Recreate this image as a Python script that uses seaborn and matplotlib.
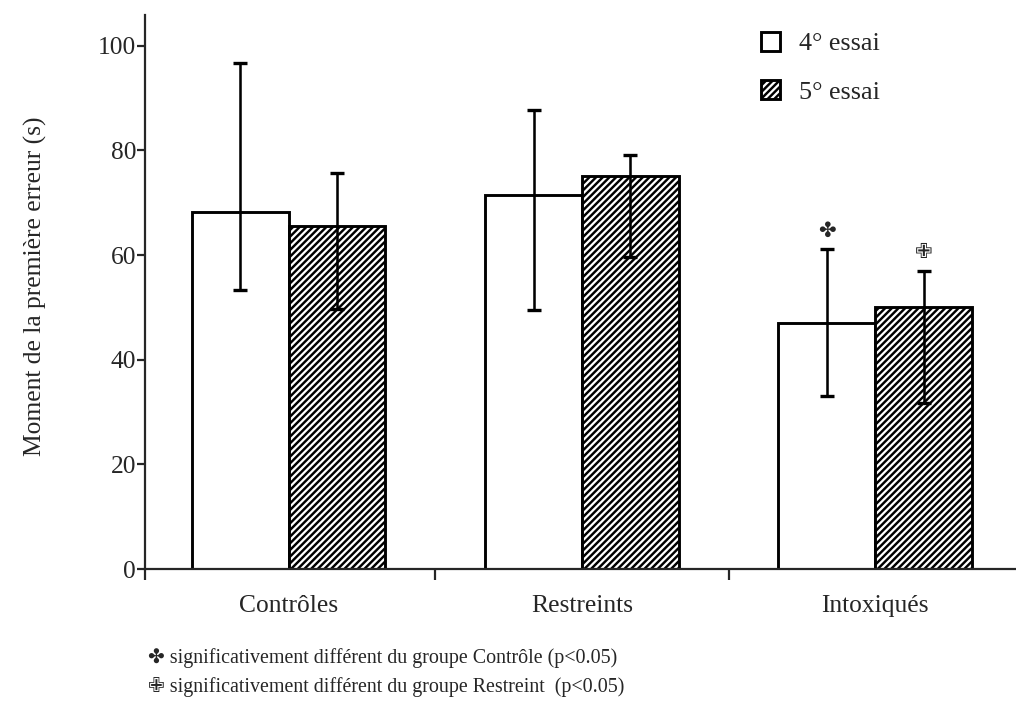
"""Bar chart: moment de la première erreur, 4e et 5e essai."""

import matplotlib
matplotlib.use('Agg')
import matplotlib.pyplot as plt
import seaborn as sns
import pandas as pd

# Data
groupes = ['Contrôles', 'Restreints', 'Intoxiqués']
essais = ['4° essai', '5° essai']
essai4 = [68.2, 71.5, 47.0]
essai5 = [65.6, 75.1, 50.0]
essai4_bas = [53.3, 49.5, 33.1]
essai4_haut = [96.7, 87.8, 61.1]
essai5_bas = [49.7, 59.7, 31.8]
essai5_haut = [75.7, 79.2, 57.0]
# significance markers: (groupe index, essai index, symbol)
marques = [(2, 0, '✤'), (2, 1, '✙')]
notes = [
    '✤ significativement différent du groupe Contrôle (p<0.05)',
    '✙ significativement différent du groupe Restreint  (p<0.05)',
]

df = pd.DataFrame({
    'groupe': groupes * 2,
    'essai': [essais[0]] * 3 + [essais[1]] * 3,
    'temps': essai4 + essai5,
})

sns.set_style('ticks')
plt.rcParams['font.family'] = ['Liberation Serif', 'DejaVu Sans']
plt.rcParams['hatch.linewidth'] = 2.2
plt.rcParams['hatch.color'] = 'black'

DPI = 80
fig = plt.figure(figsize=(1016 / DPI, 702 / DPI), dpi=DPI)
ax = fig.add_axes([145 / 1016, 133 / 702, 871 / 1016, 554 / 702])

sns.barplot(
    data=df, x='groupe', y='temps', hue='essai',
    order=groupes, hue_order=essais,
    width=0.66, gap=0, errorbar=None,
    palette=['white', 'white'], edgecolor='black', linewidth=2.6,
    legend=False, ax=ax
)
bars = list(ax.containers)

for patch in bars[1].patches:
    patch.set_hatch('////')

# asymmetric error bars, placed on the centres of the drawn bars
bas = [essai4_bas, essai5_bas]
haut = [essai4_haut, essai5_haut]
vals = [essai4, essai5]
for k, cont in enumerate(bars):
    xs = [p.get_x() + p.get_width() / 2 for p in cont.patches]
    lo = [v - b for v, b in zip(vals[k], bas[k])]
    hi = [h - v for v, h in zip(vals[k], haut[k])]
    ax.errorbar(xs, vals[k], yerr=[lo, hi], fmt='none', ecolor='black',
                elinewidth=2.3, capsize=6, capthick=3, zorder=5)

for gi, ei, sym in marques:
    p = bars[ei].patches[gi]
    ax.annotate(sym, xy=(p.get_x() + p.get_width() / 2, haut[ei][gi]),
                xytext=(0, 17), textcoords='offset points',
                ha='center', va='center', fontsize=19,
                family=['DejaVu Sans'])

ax.set_xlim(-0.49, 2.48)
ax.set_ylim(0, 105.9)
ax.set_yticks([0, 20, 40, 60, 80, 100])
ax.set_xticks([-0.49, 0.5, 1.5], labels=['', '', ''])
ax.set_xticks([0, 1, 2], labels=groupes, minor=True)
ax.tick_params(axis='x', which='major', length=10, width=2, direction='out')
ax.tick_params(axis='x', which='minor', length=0, pad=23, labelsize=23)
ax.tick_params(axis='y', length=7, width=2, direction='out', pad=1,
               labelsize=23)

sns.despine(ax=ax)
for side in ['left', 'bottom']:
    ax.spines[side].set_linewidth(2)

ax.set_xlabel('')
ax.set_ylabel('Moment de la première erreur (s)', fontsize=23)
ax.yaxis.set_label_coords(-0.112, 0.51)

ax.legend(bars, essais, loc='upper left',
          bbox_to_anchor=(761 / 1016, 1 - 32 / 702), bbox_transform=fig.transFigure,
          frameon=False, fontsize=23.5, handlelength=0.72, handleheight=0.72,
          handletextpad=0.75, labelspacing=0.95, borderpad=0, borderaxespad=0)

for i, txt in enumerate(notes):
    fig.text(148 / 1016, 1 - (658 + 29 * i) / 702, txt, ha='left', va='center',
             fontsize=18)

fig.savefig('out.png', dpi=DPI)
